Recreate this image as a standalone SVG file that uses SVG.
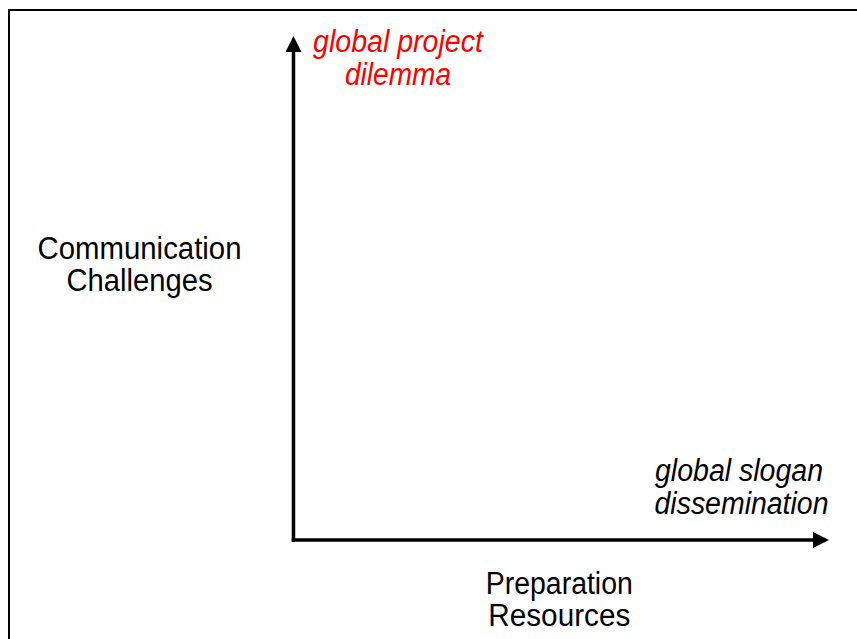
<svg xmlns="http://www.w3.org/2000/svg" width="857" height="639" viewBox="0 0 857 639">
  <style>
    .label { font-family: "Liberation Sans", Arial, sans-serif; font-size: 31px; fill: #000000; }
    .italic { font-style: italic; }
    .red { fill: #FF0000; }
    .axis { fill: none; stroke: #000000; stroke-width: 3.5; stroke-linecap: square; }
    .frame { fill: none; stroke: #000000; stroke-width: 2; }
  </style>
  <defs>
    <marker id="arrow" viewBox="0 0 16 16" refX="1" refY="8" markerWidth="16" markerHeight="16" markerUnits="userSpaceOnUse" orient="auto">
      <path d="M0,0 L16,8 L0,16 Z" fill="#000000"/>
    </marker>
  </defs>

  <rect width="857" height="639" fill="#FFFFFF"/>

  <!-- outer frame: top and left edges -->
  <path class="frame" d="M9,639 V10 H857"/>

  <!-- axes -->
  <g id="connectors">
    <path class="axis" d="M293.5,540 V51" marker-end="url(#arrow)"/>
    <path class="axis" d="M293.5,540 H814" marker-end="url(#arrow)"/>
  </g>

  <g id="label-global-project">
    <text class="label italic red" x="398" y="52" text-anchor="middle" textLength="170" lengthAdjust="spacingAndGlyphs">global project</text>
    <text class="label italic red" x="398" y="85" text-anchor="middle" textLength="106" lengthAdjust="spacingAndGlyphs">dilemma</text>
  </g>

  <g id="label-communication">
    <text class="label" x="139.5" y="258.5" text-anchor="middle" textLength="204" lengthAdjust="spacingAndGlyphs">Communication</text>
    <text class="label" x="139.5" y="291" text-anchor="middle" textLength="146" lengthAdjust="spacingAndGlyphs">Challenges</text>
  </g>

  <g id="label-global-slogan">
    <text class="label italic" x="655" y="481" textLength="168" lengthAdjust="spacingAndGlyphs">global slogan</text>
    <text class="label italic" x="654.5" y="513.5" textLength="174" lengthAdjust="spacingAndGlyphs">dissemination</text>
  </g>

  <g id="label-preparation">
    <text class="label" x="559.3" y="593.5" text-anchor="middle" textLength="147" lengthAdjust="spacingAndGlyphs">Preparation</text>
    <text class="label" x="559.3" y="626" text-anchor="middle" textLength="142" lengthAdjust="spacingAndGlyphs">Resources</text>
  </g>
</svg>
